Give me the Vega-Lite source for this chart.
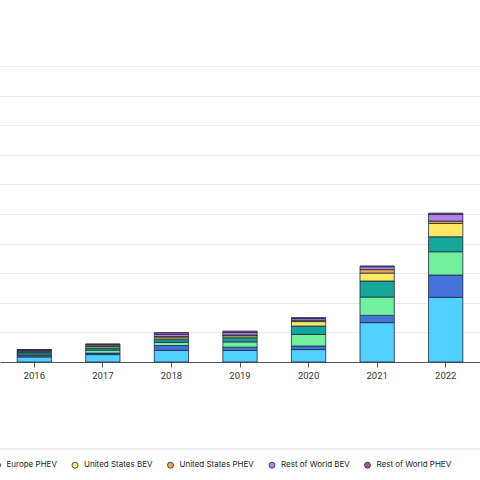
{
  "$schema": "https://vega.github.io/schema/vega-lite/v6.json",
  "width": 480,
  "height": 296,
  "autosize": {"type": "none"},
  "padding": {"left": 0, "top": 66, "right": 0, "bottom": 118},
  "config": {"view": {"stroke": null}, "font": "Inter"},
  "data": {
    "values": [
      {"year": "2016", "series": "China BEV", "sales": 0.34},
      {"year": "2016", "series": "China PHEV", "sales": 0.10},
      {"year": "2016", "series": "Europe BEV", "sales": 0.10},
      {"year": "2016", "series": "Europe PHEV", "sales": 0.10},
      {"year": "2016", "series": "United States BEV", "sales": 0.08},
      {"year": "2016", "series": "United States PHEV", "sales": 0.08},
      {"year": "2016", "series": "Rest of World BEV", "sales": 0.02},
      {"year": "2016", "series": "Rest of World PHEV", "sales": 0.02},
      {"year": "2017", "series": "China BEV", "sales": 0.50},
      {"year": "2017", "series": "China PHEV", "sales": 0.10},
      {"year": "2017", "series": "Europe BEV", "sales": 0.20},
      {"year": "2017", "series": "Europe PHEV", "sales": 0.15},
      {"year": "2017", "series": "United States BEV", "sales": 0.10},
      {"year": "2017", "series": "United States PHEV", "sales": 0.09},
      {"year": "2017", "series": "Rest of World BEV", "sales": 0.05},
      {"year": "2017", "series": "Rest of World PHEV", "sales": 0.03},
      {"year": "2018", "series": "China BEV", "sales": 0.79},
      {"year": "2018", "series": "China PHEV", "sales": 0.32},
      {"year": "2018", "series": "Europe BEV", "sales": 0.22},
      {"year": "2018", "series": "Europe PHEV", "sales": 0.18},
      {"year": "2018", "series": "United States BEV", "sales": 0.12},
      {"year": "2018", "series": "United States PHEV", "sales": 0.09},
      {"year": "2018", "series": "Rest of World BEV", "sales": 0.16},
      {"year": "2018", "series": "Rest of World PHEV", "sales": 0.11},
      {"year": "2019", "series": "China BEV", "sales": 0.78},
      {"year": "2019", "series": "China PHEV", "sales": 0.22},
      {"year": "2019", "series": "Europe BEV", "sales": 0.36},
      {"year": "2019", "series": "Europe PHEV", "sales": 0.28},
      {"year": "2019", "series": "United States BEV", "sales": 0.13},
      {"year": "2019", "series": "United States PHEV", "sales": 0.05},
      {"year": "2019", "series": "Rest of World BEV", "sales": 0.17},
      {"year": "2019", "series": "Rest of World PHEV", "sales": 0.10},
      {"year": "2020", "series": "China BEV", "sales": 0.84},
      {"year": "2020", "series": "China PHEV", "sales": 0.24},
      {"year": "2020", "series": "Europe BEV", "sales": 0.79},
      {"year": "2020", "series": "Europe PHEV", "sales": 0.56},
      {"year": "2020", "series": "United States BEV", "sales": 0.30},
      {"year": "2020", "series": "United States PHEV", "sales": 0.09},
      {"year": "2020", "series": "Rest of World BEV", "sales": 0.12},
      {"year": "2020", "series": "Rest of World PHEV", "sales": 0.06},
      {"year": "2021", "series": "China BEV", "sales": 2.66},
      {"year": "2021", "series": "China PHEV", "sales": 0.49},
      {"year": "2021", "series": "Europe BEV", "sales": 1.24},
      {"year": "2021", "series": "Europe PHEV", "sales": 1.08},
      {"year": "2021", "series": "United States BEV", "sales": 0.54},
      {"year": "2021", "series": "United States PHEV", "sales": 0.23},
      {"year": "2021", "series": "Rest of World BEV", "sales": 0.20},
      {"year": "2021", "series": "Rest of World PHEV", "sales": 0.05},
      {"year": "2022", "series": "China BEV", "sales": 4.37},
      {"year": "2022", "series": "China PHEV", "sales": 1.51},
      {"year": "2022", "series": "Europe BEV", "sales": 1.57},
      {"year": "2022", "series": "Europe PHEV", "sales": 1.01},
      {"year": "2022", "series": "United States BEV", "sales": 0.90},
      {"year": "2022", "series": "United States PHEV", "sales": 0.16},
      {"year": "2022", "series": "Rest of World BEV", "sales": 0.45},
      {"year": "2022", "series": "Rest of World PHEV", "sales": 0.09}
    ]
  },
  "transform": [
    {"calculate": "indexof(['China BEV', 'China PHEV', 'Europe BEV', 'Europe PHEV', 'United States BEV', 'United States PHEV', 'Rest of World BEV', 'Rest of World PHEV'], datum.series)", "as": "stackOrder"}
  ],
  "layer": [
    {
      "mark": {"type": "bar", "stroke": "#1d2a44", "strokeWidth": 0.8},
      "encoding": {
        "x": {
          "field": "year",
          "type": "nominal",
          "scale": {"paddingInner": 0.5, "paddingOuter": 0.25},
          "axis": {
            "title": null,
            "labelAngle": 0,
            "labelFont": "Roboto",
            "labelFontSize": 9.5,
            "labelColor": "#333333",
            "labelPadding": 3,
            "tickColor": "#555555",
            "tickSize": 5,
            "domainColor": "#555555"
          }
        },
        "y": {
          "field": "sales",
          "type": "quantitative",
          "stack": "zero",
          "scale": {"domain": [0, 20]},
          "axis": {
            "title": null,
            "tickCount": 10,
            "labels": false,
            "ticks": false,
            "domain": false,
            "gridColor": "#ebebeb"
          }
        },
        "order": {"field": "stackOrder", "type": "quantitative", "sort": "ascending"},
        "color": {
          "field": "series",
          "type": "nominal",
          "scale": {
            "domain": ["China BEV", "China PHEV", "Europe BEV", "Europe PHEV", "United States BEV", "United States PHEV", "Rest of World BEV", "Rest of World PHEV"],
            "range": ["#52d1ff", "#4673d9", "#72f0a0", "#16a69a", "#ffe866", "#f5a849", "#b083e8", "#a4589a"]
          },
          "legend": {
            "orient": "none",
            "legendX": -217,
            "legendY": 395,
            "direction": "horizontal",
            "title": null,
            "symbolType": "circle",
            "symbolSize": 36,
            "symbolStrokeWidth": 0.8,
            "labelFont": "Inter",
            "labelFontSize": 8,
            "labelColor": "#222222",
            "labelOffset": 5,
            "columnPadding": 12.5
          }
        }
      }
    },
    {
      "mark": {"type": "rule", "color": "#eeeeee"},
      "encoding": {"y": {"datum": -5.9}}
    }
  ]
}
